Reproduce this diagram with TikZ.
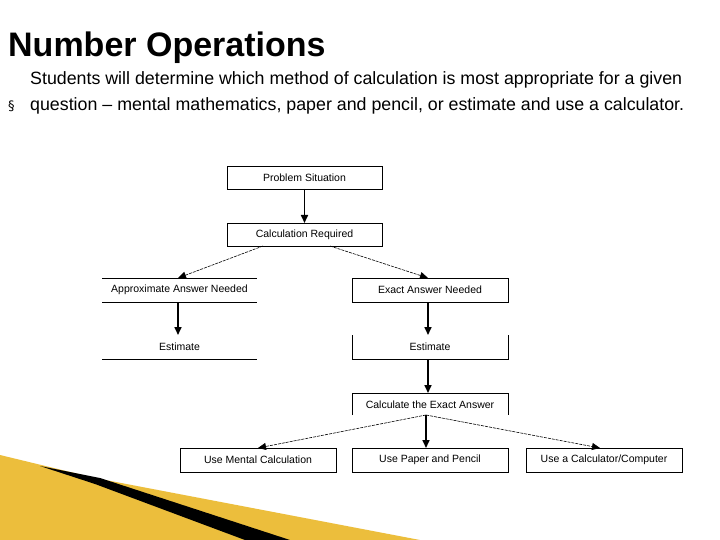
\documentclass[tikz,border=0pt]{standalone}
\usepackage{fontspec}
\setmainfont{Liberation Sans}
\newfontfamily\djvfont{DejaVu Sans}
\usetikzlibrary{arrows.meta}
\definecolor{gold}{RGB}{236,190,60}
\begin{document}
\begin{tikzpicture}[x=1pt,y=-1pt,
  lab/.style={font=\fontsize{10.5}{12}\selectfont,inner sep=0},
  thk/.style={line width=1.6pt,-{Triangle[length=8pt,width=7pt]}},
  thn/.style={line width=0.6pt,dash pattern=on 3pt off 1pt,-{Triangle[length=8pt,width=7pt]}},
  bx/.style={line width=0.6pt}]
\useasboundingbox (0,0) rectangle (720,540);
\fill[white] (0,0) rectangle (720,540);
% decoration
\fill[gold] (0,455) -- (95,478) -- (420,540) -- (0,540) -- cycle;
\fill[black] (40,466) -- (100,478) -- (290,540) -- (245,540) -- (95,484) -- cycle;
\node[anchor=base west,inner sep=0,font=\fontsize{34}{38}\selectfont\bfseries] (title) at (8,57) {Number Operations};
\node[anchor=base west,inner sep=0,font=\fontsize{13}{14}\selectfont] (bul) at (8,111) {\djvfont\char"00A7};
\node[anchor=base west,inner sep=0,align=left,font=\fontsize{17.8}{26}\selectfont] (txt) at (30,111)
 {Students will determine which method of calculation is most appropriate for a given\\question -- mental mathematics, paper and pencil, or estimate and use a calculator.};
% boxes
\draw[bx] (227,166) rectangle (382,189); \node[lab] (ps) at (304.5,177.5) {Problem Situation};
\draw[bx] (227,223) rectangle (382,246); \node[lab] (cr) at (304.5,234.5) {Calculation Required};
\draw[bx] (102,278) -- (257,278) (102,302) -- (257,302); \node[lab] (aa) at (179.5,290) {Approximate Answer Needed};
\draw[bx] (352,278) rectangle (508,302); \node[lab] (ea) at (430,290) {Exact Answer Needed};
\draw[bx] (102,359) -- (257,359); \node[lab] (e1) at (179.5,347) {Estimate};
\draw[bx] (352,335) -- (352,359) -- (508,359) -- (508,335); \node[lab] (e2) at (430,347) {Estimate};
\draw[bx] (352,415) -- (352,393) -- (508,393) -- (508,415); \node[lab] (ce) at (430,404.5) {Calculate the Exact Answer};
\draw[bx] (180,448) rectangle (336,472); \node[lab] (um) at (258,460) {Use Mental Calculation};
\draw[bx] (352,448) rectangle (508,472); \node[lab] (up) at (430,460) {Use Paper and Pencil};
\draw[bx] (526,448) rectangle (682,472); \node[lab] (uc) at (604,460) {Use a Calculator/Computer};
% arrows
\coordinate (a1) at (304.5,189); \coordinate (a2) at (304.5,223);
\draw[thk] (a1) -- (a2);
\coordinate (b1) at (263,246); \coordinate (b2) at (178,278);
\coordinate (c1) at (330,246); \coordinate (c2) at (428,278);
\draw[thn] (b1) -- (b2); \draw[thn] (c1) -- (c2);
\coordinate (d1) at (178,302); \coordinate (d2) at (178,335);
\draw[thk] (d1) -- (d2);
\coordinate (f1) at (428,302); \coordinate (f2) at (428,335);
\draw[thk] (f1) -- (f2);
\coordinate (g1) at (428,359); \coordinate (g2) at (428,393);
\draw[thk] (g1) -- (g2);
\coordinate (h) at (426,415);
\coordinate (h1) at (258,448); \coordinate (h2) at (426,448); \coordinate (h3) at (600,448);
\draw[thn] (h) -- (h1); \draw[thk] (h) -- (h2); \draw[thn] (h) -- (h3);
\end{tikzpicture}
\end{document}
